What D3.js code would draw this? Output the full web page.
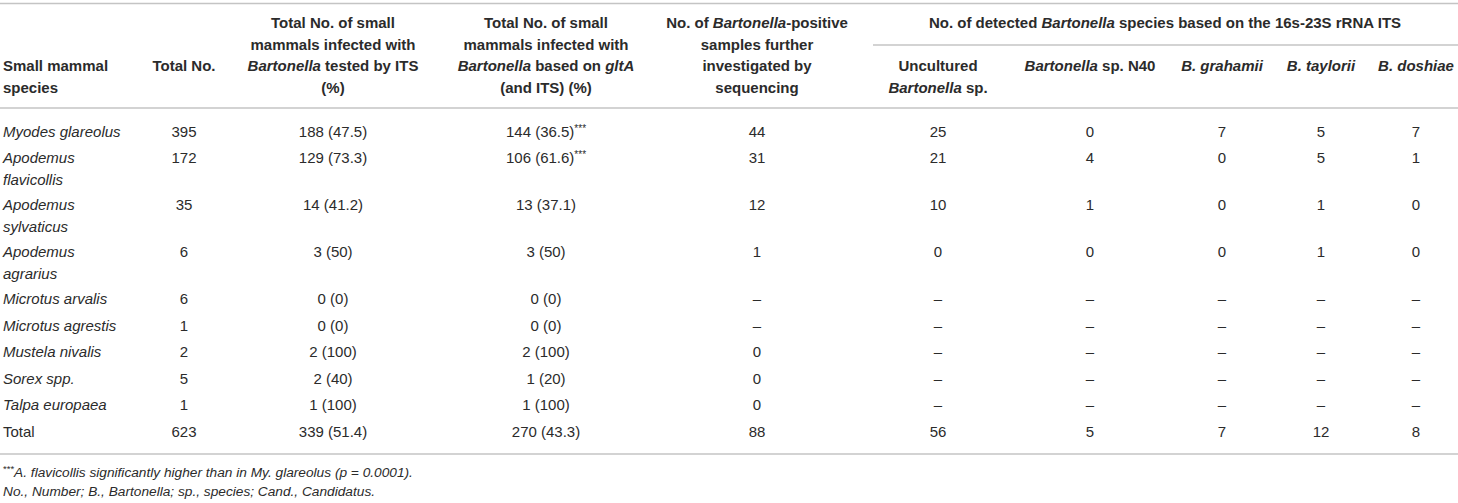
<!DOCTYPE html>
<html>
<head>
<meta charset="utf-8">
<script src="https://cdn.jsdelivr.net/npm/d3@7"></script>
<style>
  body { margin: 0; background: #fff; }
  svg text { font-family: "Liberation Sans", Arial, sans-serif; fill: #2b2b2b; }
</style>
</head>
<body>
<svg id="tbl" width="1458" height="503"></svg>
<script>
// table content, _x_ = italic, ^x^ = superscript
const species = [
  ["_Myodes glareolus_"],
  ["_Apodemus_", "_flavicollis_"],
  ["_Apodemus_", "_sylvaticus_"],
  ["_Apodemus_", "_agrarius_"],
  ["_Microtus arvalis_"],
  ["_Microtus agrestis_"],
  ["_Mustela nivalis_"],
  ["_Sorex spp._"],
  ["_Talpa europaea_"],
  ["Total"]
];
const totalNo = ["395", "172", "35", "6", "6", "1", "2", "5", "1", "623"];
const itsPos = ["188 (47.5)", "129 (73.3)", "14 (41.2)", "3 (50)", "0 (0)", "0 (0)", "2 (100)", "2 (40)", "1 (100)", "339 (51.4)"];
const gltaPos = ["144 (36.5)^***^", "106 (61.6)^***^", "13 (37.1)", "3 (50)", "0 (0)", "0 (0)", "2 (100)", "1 (20)", "1 (100)", "270 (43.3)"];
const sequenced = ["44", "31", "12", "1", "–", "–", "0", "0", "0", "88"];
const uncultured = ["25", "21", "10", "0", "–", "–", "–", "–", "–", "56"];
const spN40 = ["0", "4", "1", "0", "–", "–", "–", "–", "–", "5"];
const grahamii = ["7", "0", "0", "0", "–", "–", "–", "–", "–", "7"];
const taylorii = ["5", "5", "1", "1", "–", "–", "–", "–", "–", "12"];
const doshiae = ["7", "1", "0", "0", "–", "–", "–", "–", "–", "8"];

const colKeys = ["species", "total", "its", "glta", "seq", "unc", "n40", "gra", "tay", "dos"];
const columns = [species, totalNo, itsPos, gltaPos, sequenced, uncultured, spN40, grahamii, taylorii, doshiae];

const headers = [
  ["", "", "Small mammal", "species"],
  ["", "", "Total No."],
  ["Total No. of small", "mammals infected with", "_Bartonella_ tested by ITS", "(%)"],
  ["Total No. of small", "mammals infected with", "_Bartonella_ based on _gltA_", "(and ITS) (%)"],
  ["No. of _Bartonella_-positive", "samples further", "investigated by", "sequencing"],
  ["", "", "Uncultured", "_Bartonella_ sp."],
  ["", "", "_Bartonella_ sp. N40"],
  ["", "", "_B. grahamii_"],
  ["", "", "_B. taylorii_"],
  ["", "", "_B. doshiae_"]
];
const groupHeader = "No. of detected _Bartonella_ species based on the 16s-23S rRNA ITS";
const footnotes = [
  "^***^_A. flavicollis significantly higher than in My. glareolus (p = 0.0001)._",
  "_No., Number; B., Bartonella; sp., species; Cand., Candidatus._"
];

const svg = d3.select("#tbl");
const W = +svg.attr("width");

const x = d3.scaleOrdinal()
  .domain(colKeys)
  .range([3, 184, 333, 546, 757, 938, 1090, 1222, 1321, 1416]);

const headLineY = d3.scaleLinear().domain([0, 1]).range([23, 44.5]);
const fontSize = 15;
const baseShift = 5;

// write a rich string into a text element
function rich(sel, str, supSize) {
  const parts = str.split(/(_[^_]+_|\^[^^]+\^)/).filter(s => s.length);
  let raised = false;
  parts.forEach(p => {
    const t = sel.append("tspan");
    if (p[0] === "_") {
      t.text(p.slice(1, -1)).attr("font-style", "italic");
    } else if (p[0] === "^") {
      t.text(p.slice(1, -1)).attr("font-size", supSize).attr("dy", -5);
      raised = true;
      return;
    } else {
      t.text(p);
    }
    if (raised) { t.attr("dy", 5); raised = false; }
  });
}

// rules
const rules = [
  {y: 3.5, x1: 0, x2: W},
  {y: 45, x1: 873, x2: W},
  {y: 108, x1: 0, x2: W},
  {y: 454, x1: 0, x2: W}
];
svg.selectAll("line.rule")
  .data(rules)
  .join("line")
  .attr("class", "rule")
  .attr("x1", d => d.x1).attr("x2", d => d.x2)
  .attr("y1", d => d.y).attr("y2", d => d.y)
  .attr("stroke", "#c4c4c4")
  .attr("stroke-width", 1.6);

// header
const hg = svg.append("g").attr("font-weight", "bold").attr("font-size", fontSize);
headers.forEach((lines, ci) => {
  lines.forEach((ln, li) => {
    if (!ln) return;
    const t = hg.append("text")
      .attr("x", x(colKeys[ci]))
      .attr("y", headLineY(li) + baseShift)
      .attr("text-anchor", ci === 0 ? "start" : "middle");
    rich(t, ln, 10);
  });
});
rich(hg.append("text").attr("x", 1165).attr("y", headLineY(0) + baseShift).attr("text-anchor", "middle"), groupHeader, 10);

// body rows, taller where the species name wraps
const rowTop = [];
let yy = 131.5;
species.forEach(s => {
  rowTop.push(yy);
  yy += 26.5 + 20.5 * (s.length - 1);
});

const bg = svg.append("g").attr("font-size", fontSize);
columns.forEach((col, ci) => {
  col.forEach((val, ri) => {
    const lines = Array.isArray(val) ? val : [val];
    lines.forEach((ln, li) => {
      const t = bg.append("text")
        .attr("x", x(colKeys[ci]))
        .attr("y", rowTop[ri] + li * 21.5 + baseShift)
        .attr("text-anchor", ci === 0 ? "start" : "middle");
      rich(t, ln, 10);
    });
  });
});

// footnotes
const fg = svg.append("g").attr("font-size", 13.7);
footnotes.forEach((f, i) => {
  const t = fg.append("text")
    .attr("x", 3)
    .attr("y", 472 + i * 19 + 4.5);
  rich(t, f, 9.5);
});
</script>
</body>
</html>
